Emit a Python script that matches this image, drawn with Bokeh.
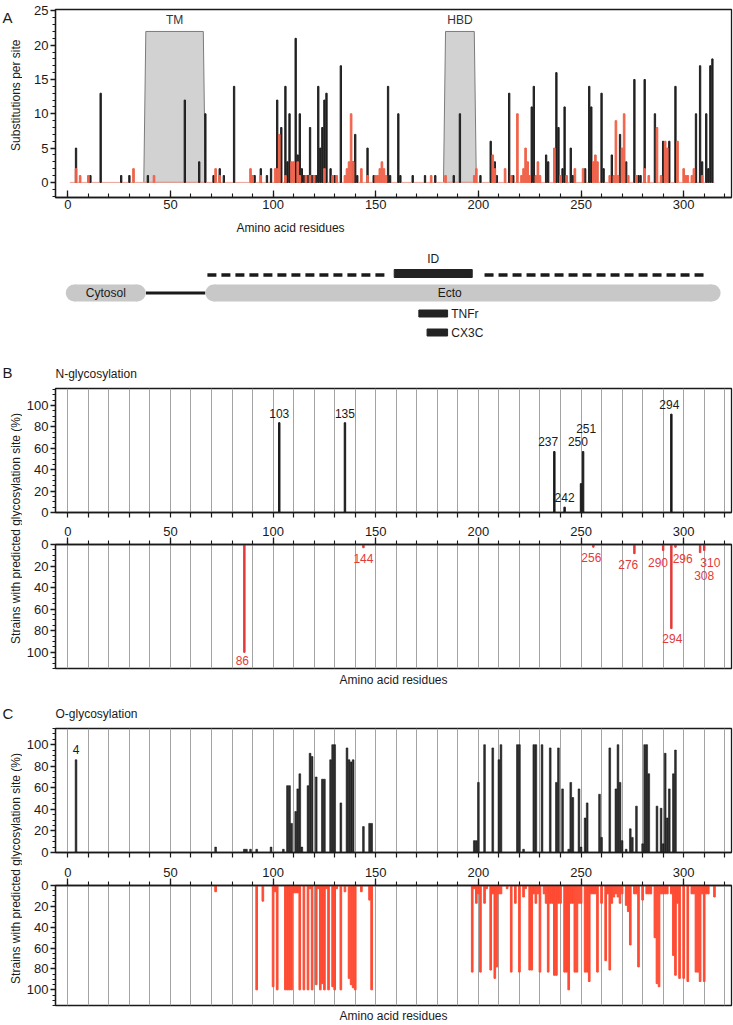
import math
from bokeh.plotting import figure
from bokeh.models import Range1d, LinearAxis, SingleIntervalTicker, FixedTicker, Grid
from bokeh.layouts import column, row
from bokeh.core.properties import value
from bokeh.embed import file_html
from bokeh.resources import INLINE

# ======================= DATA =======================
SEQ_START, SEQ_END = 1, 315

# Panel A: substitutions per site (residue, count)
A_black = [(4, 5), (11, 1), (16, 13), (26, 1), (30, 1), (39, 1), (57, 12), (64, 3), (67, 10), (71, 1),
           (74, 2), (76, 1), (81, 14), (90, 1), (91, 1), (94, 2), (97, 1), (99, 2), (102, 12), (104, 8),
           (106, 14), (107, 3), (108, 10), (111, 21), (112, 4), (113, 10), (114, 2), (115, 1), (116, 1), (117, 1),
           (118, 8), (119, 1), (120, 1), (121, 1), (122, 14), (123, 5), (124, 8), (125, 12), (126, 13), (128, 2),
           (130, 1), (133, 17), (139, 3), (140, 7), (141, 1), (146, 5), (149, 1), (156, 14), (157, 1), (161, 10),
           (162, 1), (168, 1), (174, 1), (179, 1), (188, 1), (191, 10), (201, 1), (206, 6), (208, 3), (209, 1),
           (215, 13), (217, 1), (226, 11), (227, 14), (233, 4), (234, 3), (238, 16), (239, 8), (241, 2), (242, 11),
           (245, 5), (246, 1), (252, 2), (254, 14), (255, 11), (260, 13), (261, 2), (265, 4), (269, 7), (272, 3),
           (276, 15), (278, 1), (279, 1), (281, 15), (286, 10), (290, 6), (293, 6), (296, 14), (306, 10), (308, 17),
           (309, 3), (311, 10), (312, 2), (313, 17), (314, 18)]
A_red = [(4, 2), (6, 1), (10, 1), (32, 2), (42, 1), (72, 2), (74, 1), (89, 2), (90, 1), (94, 1),
         (101, 2), (102, 2), (103, 7), (106, 1), (109, 3), (110, 3), (112, 3), (113, 1), (116, 1), (118, 1),
         (120, 1), (125, 2), (129, 1), (131, 1), (135, 1), (136, 2), (137, 3), (138, 10), (139, 3), (143, 2),
         (146, 1), (150, 1), (151, 1), (152, 2), (153, 3), (154, 2), (155, 1), (177, 1), (184, 1), (198, 1),
         (199, 2), (207, 4), (208, 2), (213, 2), (216, 1), (219, 10), (221, 1), (222, 2), (223, 5), (224, 3),
         (225, 1), (228, 1), (229, 3), (230, 1), (237, 5), (240, 1), (243, 1), (247, 2), (251, 2), (256, 3),
         (257, 4), (258, 3), (264, 1), (266, 1), (267, 9), (268, 1), (270, 5), (271, 10), (273, 1), (277, 1),
         (281, 2), (283, 1), (287, 8), (289, 1), (291, 6), (292, 5), (297, 6), (300, 2), (301, 1), (302, 1),
         (304, 1), (305, 2), (309, 1)]
A_black_res = [r for r, v in A_black]
A_black_val = [v for r, v in A_black]
A_red_res = [r for r, v in A_red]
A_red_val = [v for r, v in A_red]

A_region_names = ["TM", "HBD"]
A_region_start = [37, 183]
A_region_end = [67, 199]
A_box_height = 22

# Domain diagram (residue ranges)
DOM_NAMES = ["Cytosol", "Ecto"]
DOM_START = [-1, 67]
DOM_END = [38, 318]
ID_RANGE = (159, 197)
MOTIF_NAMES = ["TNFr", "CX3C"]
MOTIF_START = [171, 175]
MOTIF_END = [185, 185]

# Panel B: N-glycosylation (% strains)
B_top_site = [103, 135, 237, 242, 250, 251, 294]
B_top_pct = [84, 84, 57, 5, 27, 57, 92]
B_bot_site = [86, 144, 256, 276, 290, 294, 296, 308, 310]
B_bot_pct = [100, 3, 2.5, 8.5, 5.5, 78, 2.5, 7.5, 5.5]

# Panel C: O-glycosylation (% strains)
C_top = [(4, 86), (72, 5), (86, 3), (87, 3), (89, 3), (92, 3), (99, 5), (105, 3), (107, 62), (108, 62),
         (109, 27), (111, 38), (112, 59), (113, 73), (114, 5), (117, 62), (118, 92), (119, 89), (121, 70), (124, 68),
         (125, 68), (128, 86), (129, 100), (130, 100), (133, 46), (136, 97), (137, 86), (138, 84), (139, 86), (144, 24),
         (147, 27), (148, 27), (198, 11), (199, 11), (200, 65), (203, 100), (207, 97), (210, 86), (211, 100), (219, 100),
         (220, 100), (222, 3), (227, 100), (228, 100), (231, 100), (235, 97), (238, 65), (239, 97), (241, 59), (244, 3),
         (245, 65), (246, 51), (249, 59), (250, 5), (252, 32), (253, 46), (259, 54), (260, 14), (264, 97), (267, 59),
         (268, 100), (269, 65), (270, 11), (272, 3), (274, 22), (275, 14), (277, 43), (280, 8), (281, 100), (282, 100),
         (283, 73), (287, 43), (289, 41), (290, 8), (291, 92), (292, 32), (293, 59), (295, 73), (296, 95)]
C_bot = [(72, 6), (92, 100), (95, 15), (100, 97), (101, 6), (102, 100), (106, 100), (107, 100), (108, 100), (109, 100),
         (110, 7), (111, 7), (112, 7), (113, 100), (115, 100), (117, 100), (118, 3), (119, 100), (121, 95), (122, 3),
         (123, 100), (124, 94), (125, 100), (126, 3), (127, 100), (129, 97), (130, 100), (131, 3), (133, 100), (135, 6),
         (137, 89), (138, 95), (139, 98), (140, 100), (143, 6), (147, 14), (148, 100),
         (197, 83), (198, 3), (199, 17), (200, 8), (201, 83), (203, 17), (204, 3), (206, 81), (207, 8), (208, 89),
         (209, 78), (210, 8), (211, 8), (214, 3), (216, 83), (218, 17), (220, 83), (222, 11), (223, 3), (225, 81),
         (226, 81), (227, 8), (228, 17), (229, 8), (230, 83), (232, 8), (233, 17), (234, 83), (235, 17), (236, 17),
         (237, 86), (238, 86), (239, 17), (240, 17), (242, 83), (243, 83), (244, 100), (245, 17), (246, 17), (247, 83),
         (248, 83), (249, 17), (250, 17), (252, 83), (253, 83), (254, 92), (255, 8), (256, 8), (257, 8), (258, 83),
         (260, 17), (262, 72), (263, 8), (264, 81), (265, 17), (266, 11), (267, 8), (268, 11), (269, 17), (270, 8),
         (272, 19), (273, 25), (274, 57), (276, 8), (277, 8), (278, 78), (280, 14), (282, 8), (283, 8), (284, 8),
         (286, 50), (287, 94), (288, 97), (289, 8), (290, 8), (291, 8), (292, 8), (294, 8), (295, 67), (296, 86),
         (297, 17), (298, 89), (300, 89), (302, 92), (304, 8), (305, 8), (306, 83), (307, 83), (308, 92), (309, 8),
         (310, 92), (311, 8), (312, 8), (315, 11)]
C_top_res = [r for r, v in C_top]
C_top_val = [v for r, v in C_top]
C_bot_res = [r for r, v in C_bot]
C_bot_val = [v for r, v in C_bot]

# ======================= STYLE =======================
FONT = "Liberation Sans"
INK = "#1a1a1a"
A_RED = "#f0644c"
B_RED = "#e23b3b"
C_RED = "#ff4b33"
GRID = "#a3a3a3"
PILL = "#c8c8c8"
TICK_FS = "13px"
LAB_FS = "12px"

TOTAL_W = 733
XR = (-6.0, 323.3)
LW = 22                # label column width
MW = TOTAL_W - LW      # main figure width
BL, BR = 33, 2         # main figure left/right borders
PXU = (MW - BL - BR) / (XR[1] - XR[0])
MINOR_X = list(range(0, 330, 10))


def txt(p, xs, ys, labels, color=INK, size=LAB_FS, align="center", baseline="middle", angle=0.0):
    p.text(x=xs, y=ys, text=labels, text_font=value(FONT), text_font_size=size,
           text_color=color, text_align=align, text_baseline=baseline, angle=angle)


def style_axis(ax):
    ax.axis_line_color = INK
    ax.axis_line_width = 1.3
    ax.major_tick_line_color = INK
    ax.major_tick_line_width = 1.3
    ax.minor_tick_line_color = INK
    ax.minor_tick_line_width = 1.1
    ax.major_label_text_font = FONT
    ax.major_label_text_color = INK
    ax.major_label_text_font_size = TICK_FS
    ax.major_label_standoff = 2
    return ax


def mk_axis(interval, minor, tick_in=0, tick_out=5, minor_in=0, minor_out=3):
    ax = LinearAxis(ticker=SingleIntervalTicker(interval=interval, num_minor_ticks=minor))
    ax.major_tick_in = tick_in
    ax.major_tick_out = tick_out
    ax.minor_tick_in = minor_in
    ax.minor_tick_out = minor_out
    return style_axis(ax)


def tick_only_axis():
    # ticks below the upper sub-panel, no labels
    ax = LinearAxis(ticker=FixedTicker(ticks=[], minor_ticks=MINOR_X))
    ax.minor_tick_in = 0
    ax.minor_tick_out = 5
    style_axis(ax)
    ax.minor_tick_line_width = 1.2
    return ax


def base_fig(h, top, bottom, yr, title=None):
    kw = dict(width=MW, height=h, x_range=Range1d(*XR), y_range=yr,
              x_axis_type=None, y_axis_type=None, output_backend="svg",
              toolbar_location=None, min_border_left=BL, min_border_right=BR,
              min_border_top=top, min_border_bottom=bottom)
    if title:
        kw["title"] = title
    p = figure(**kw)
    p.outline_line_color = INK
    p.outline_line_width = 1.3
    if title:
        p.title.align = "left"
        p.title.text_font = FONT
        p.title.text_font_size = LAB_FS
        p.title.text_font_style = "normal"
        p.title.text_color = INK
        p.title.standoff = 15
    return p


def label_fig(h, letter, letter_from_top, ylabel, ylabel_from_top):
    p = figure(width=LW, height=h, x_range=Range1d(0, LW), y_range=Range1d(0, h),
               x_axis_type=None, y_axis_type=None, output_backend="svg",
               toolbar_location=None, min_border=0)
    p.outline_line_color = None
    txt(p, [2], [h - letter_from_top], [letter], size="15px", align="left")
    txt(p, [15], [h - ylabel_from_top], [ylabel], angle=math.pi / 2)
    return p


def add_vgrid(p):
    p.add_layout(Grid(dimension=0, ticker=SingleIntervalTicker(interval=10),
                      grid_line_color=GRID, grid_line_width=1), "center")


def add_xlabel(p, label, standoff):
    ax = LinearAxis(ticker=FixedTicker(ticks=[]), axis_label=label)
    ax.axis_line_color = None
    ax.major_tick_out = 0
    ax.minor_tick_out = 0
    ax.axis_label_standoff = standoff
    ax.axis_label_text_font = FONT
    ax.axis_label_text_font_size = LAB_FS
    ax.axis_label_text_font_style = "normal"
    ax.axis_label_text_color = INK
    p.add_layout(ax, "below")


# ======================= PANEL A =======================
A_H = 215
pa = base_fig(A_H, 9, 18, Range1d(-2.2, 25.2))
pa.add_layout(mk_axis(50, 5, tick_in=7, tick_out=0, minor_in=4, minor_out=0), "below")
pa.add_layout(mk_axis(5, 5, tick_out=5, minor_out=3), "left")

xs_b, ys_b = [], []
for s, e in zip(A_region_start, A_region_end):
    xs_b.append([s, s + 1, e - 1, e])
    ys_b.append([0, A_box_height, A_box_height, 0])
pa.patches(xs_b, ys_b, fill_color="#d2d2d2", line_color="#7c7c7c", line_width=1)
pa.line([SEQ_START, SEQ_END], [0, 0], line_color="#e9a394", line_width=1)
pa.vbar(x=A_black_res, top=A_black_val, bottom=0, width=0.65, color="#202020")
pa.vbar(x=A_red_res, top=A_red_val, bottom=0, width=0.8, color=A_RED)
txt(pa, [(s + e) / 2 for s, e in zip(A_region_start, A_region_end)],
    [A_box_height + 1.6] * 2, A_region_names, color="#333333")

la = label_fig(A_H, "A", 9, "Substitutions per site", 98)

# ======================= DOMAIN DIAGRAM =======================
DH = 127
pdm = figure(width=TOTAL_W, height=DH, x_range=Range1d(*XR), y_range=Range1d(DH, 0),
             x_axis_type=None, y_axis_type=None, output_backend="svg", toolbar_location=None,
             min_border_left=LW + BL, min_border_right=BR, min_border_top=0, min_border_bottom=0)
pdm.outline_line_color = None

ROW_PILL, PILL_H = 77.5, 17
r_u = PILL_H / 2 / PXU
# linker (TM) between cytosol and ecto
pdm.line([DOM_END[0], DOM_START[1]], [ROW_PILL, ROW_PILL], line_color=INK, line_width=3)
for s, e in zip(DOM_START, DOM_END):
    pdm.quad(left=s + r_u, right=e - r_u, top=ROW_PILL - PILL_H / 2, bottom=ROW_PILL + PILL_H / 2,
             color=PILL, line_color=None)
    pdm.scatter([s + r_u, e - r_u], [ROW_PILL, ROW_PILL], size=PILL_H, marker="circle",
                color=PILL, line_color=None)
txt(pdm, [(DOM_START[0] + DOM_END[0]) / 2, 186], [ROW_PILL, ROW_PILL], DOM_NAMES)

# ID bar with dashed line
ROW_ID = 58
pdm.line([DOM_START[1] + 1, ID_RANGE[0] - 3], [ROW_ID + 1.5] * 2, line_color=INK, line_width=3.5, line_dash="9 5")
pdm.line([ID_RANGE[1] + 6, DOM_END[1] - 6], [ROW_ID + 1.5] * 2, line_color=INK, line_width=3.5, line_dash="9 5")
pdm.quad(left=ID_RANGE[0], right=ID_RANGE[1], top=ROW_ID - 4, bottom=ROW_ID + 4, color="#222222")
txt(pdm, [(ID_RANGE[0] + ID_RANGE[1]) / 2], [ROW_ID - 15], ["ID"])

# motifs
motif_rows = [98, 117]
pdm.quad(left=MOTIF_START, right=MOTIF_END, top=[r - 3.5 for r in motif_rows],
         bottom=[r + 3.5 for r in motif_rows], color="#222222")
txt(pdm, [e + 1.8 for e in MOTIF_END], motif_rows, MOTIF_NAMES, align="left")

# x-label of panel A
txt(pdm, [108.5], [12], ["Amino acid residues"])

# ======================= PANEL B =======================
BT_H, BB_H = 178, 170
pbt = base_fig(BT_H, 46, 8, Range1d(0, 116), title="N-glycosylation")
add_vgrid(pbt)
pbt.add_layout(mk_axis(20, 4), "left")
pbt.add_layout(tick_only_axis(), "below")
pbt.vbar(x=B_top_site, top=B_top_pct, bottom=0, width=0.7, color=INK)
bt_dx = [0, 0, -3, 0, -1.5, 1.5, -1]
bt_dy = [9, 9, 9.5, 9, 39.5, 22, 9]
txt(pbt, [s + d for s, d in zip(B_top_site, bt_dx)], [v + d for v, d in zip(B_top_pct, bt_dy)],
    [str(s) for s in B_top_site])

pbb = base_fig(BB_H, 24, 22, Range1d(115, 0))
add_vgrid(pbb)
pbb.add_layout(mk_axis(20, 4), "left")
pbb.add_layout(mk_axis(50, 5, tick_out=7, minor_out=4), "above")
add_xlabel(pbb, "Amino acid residues", 4)
pbb.vbar(x=B_bot_site, top=0, bottom=B_bot_pct, width=0.7, color=B_RED)
bb_dx = [-1, 0, -1, -3, -2.5, 0.5, 3.5, 2, 3]
bb_dy = [8, 10, 10, 10, 11, 9, 10.5, 21, 11]
txt(pbb, [s + d for s, d in zip(B_bot_site, bb_dx)], [v + d for v, d in zip(B_bot_pct, bb_dy)],
    [str(s) for s in B_bot_site], color=B_RED)

lb = label_fig(BT_H + BB_H, "B", 30, "Strains with predicted glycosylation site (%)", 186)

# ======================= PANEL C =======================
CT_H, CB_H = 170, 165
pct = base_fig(CT_H, 38, 8, Range1d(0, 115), title="O-glycosylation")
add_vgrid(pct)
pct.add_layout(mk_axis(20, 4), "left")
pct.add_layout(tick_only_axis(), "below")
pct.vbar(x=C_top_res, top=C_top_val, bottom=0, width=0.85, fill_color="#333333",
         line_color="#000000", line_width=0.5)
txt(pct, [C_top_res[0]], [C_top_val[0] + 9.5], [str(C_top_res[0])])

pcb = base_fig(CB_H, 25, 17, Range1d(115, 0))
add_vgrid(pcb)
pcb.add_layout(mk_axis(20, 4), "left")
pcb.add_layout(mk_axis(50, 5, tick_out=7, minor_out=4), "above")
add_xlabel(pcb, "Amino acid residues", 3)
pcb.vbar(x=C_bot_res, top=0, bottom=C_bot_val, width=0.8, color=C_RED)

lc = label_fig(CT_H + CB_H, "C", 23, "Strains with predicted glycosylation site (%)", 178)

layout = column(
    row(la, pa),
    pdm,
    row(lb, column(pbt, pbb)),
    row(lc, column(pct, pcb)),
)

open("out.html", "w").write(file_html(layout, INLINE))
